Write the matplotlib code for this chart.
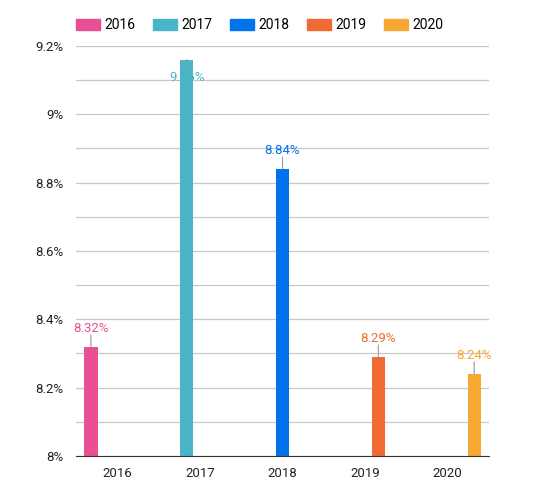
import matplotlib.pyplot as plt
from matplotlib.patches import Patch
from matplotlib.ticker import MultipleLocator, FuncFormatter

plt.rcParams['font.family'] = ['Roboto', 'DejaVu Sans']

# 数据
years = ['2016', '2017', '2018', '2019', '2020']
values = [8.32, 9.16, 8.84, 8.29, 8.24]
labels = ['8.32%', '9.16%', '8.84%', '8.29%', '8.24%']
colors = ['#e94f93', '#4ab5c9', '#0072ec', '#f06b33', '#f6a832']

fig = plt.figure(figsize=(5.47, 4.92), dpi=100)
ax = fig.add_axes([0.139, 0.0732, 0.755, 0.8333])

bar_w = 0.16
for i, (yr, v, c) in enumerate(zip(years, values, colors)):
    x = i + (i - 2) * bar_w
    ax.bar(x, v, width=bar_w, color=c, zorder=3)
    # 2017 的标签被挤到柱子里面
    if i == 1:
        ax.annotate('', xy=(x, v), xytext=(0, -7), textcoords='offset points',
                    arrowprops=dict(arrowstyle='-', color='#999999', lw=0.8,
                                    shrinkA=0, shrinkB=0), zorder=4)
        ax.annotate(labels[i], xy=(x, v), xytext=(0, -13), textcoords='offset points',
                    ha='center', va='center', color=c, fontsize=9.5, zorder=2)
    else:
        ax.annotate('', xy=(x, v), xytext=(0, 8.6), textcoords='offset points',
                    arrowprops=dict(arrowstyle='-', color='#999999', lw=0.8,
                                    shrinkA=0, shrinkB=0), zorder=4)
        ax.annotate(labels[i], xy=(x, v), xytext=(0, 13), textcoords='offset points',
                    ha='center', va='center', color=c, fontsize=9.5, zorder=4)

ax.set_xlim(-0.5, 4.5)
ax.set_ylim(8, 9.2)
ax.set_xticks(range(5))
ax.set_xticklabels(years)
ax.yaxis.set_major_locator(MultipleLocator(0.2))
ax.yaxis.set_minor_locator(MultipleLocator(0.1))
ax.yaxis.set_major_formatter(FuncFormatter(lambda v, p: ('%g' % round(v, 1)) + '%'))
ax.grid(axis='y', which='both', color='#c8c8c8', lw=0.9, zorder=0)
ax.tick_params(axis='both', which='both', length=0, labelsize=9.5, colors='#222222')
ax.tick_params(axis='x', pad=8)
ax.tick_params(axis='y', pad=9)
for s in ['top', 'right', 'left']:
    ax.spines[s].set_visible(False)
ax.spines['bottom'].set_color('#333333')
ax.spines['bottom'].set_zorder(5)

handles = [Patch(color=c, label=y) for y, c in zip(years, colors)]
fig.legend(handles=handles, loc='center left', bbox_to_anchor=(0.139, 0.949),
           ncol=5, frameon=False, fontsize=10, handlelength=1.7, handleheight=0.86,
           handletextpad=0.36, columnspacing=1.25, borderpad=0, borderaxespad=0)

plt.savefig('out.png', dpi=100)
